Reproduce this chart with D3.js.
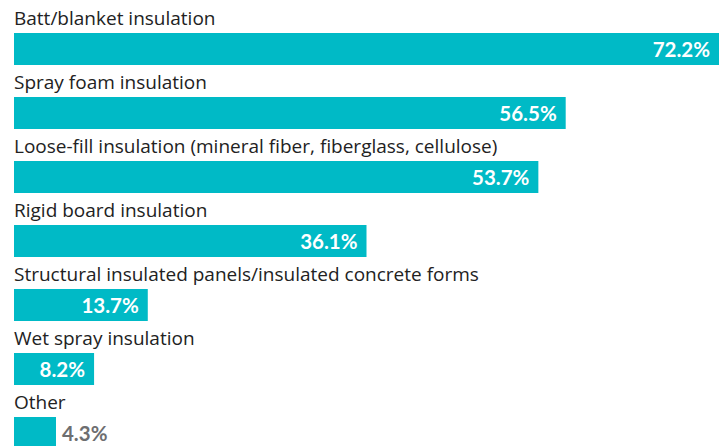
<!DOCTYPE html>
<html>
<head>
<meta charset="utf-8">
<script src="https://cdn.jsdelivr.net/npm/d3@7"></script>
<style>
  html, body { margin: 0; padding: 0; background: #fff; }
  svg { display: block; }
</style>
</head>
<body>
<svg id="chart" width="725" height="446"></svg>
<script>
// Insulation types and share of respondents (%)
const categories = [
  "Batt/blanket insulation",
  "Spray foam insulation",
  "Loose-fill insulation (mineral fiber, fiberglass, cellulose)",
  "Rigid board insulation",
  "Structural insulated panels/insulated concrete forms",
  "Wet spray insulation",
  "Other"
];
const values = [72.2, 56.5, 53.7, 36.1, 13.7, 8.2, 4.3];

const W = 725, H = 446;
const left = 14;
const rowStep = 64, barTop0 = 33, barH = 32;
const barColor = "#00BAC6";
const labelFont = "'Open Sans', Lato, sans-serif";
const valueFont = "Lato, 'Open Sans', sans-serif";

const svg = d3.select("#chart");

const x = d3.scaleLinear().domain([0, 72.2]).range([0, 705]);
const y = d3.scaleBand()
  .domain(d3.range(categories.length))
  .range([barTop0, barTop0 + rowStep * categories.length])
  .paddingInner(0).paddingOuter(0);

const rows = svg.selectAll("g.row")
  .data(categories.map((c, i) => ({ c, v: values[i], i })))
  .join("g")
  .attr("class", "row")
  .attr("transform", d => `translate(0,${y(d.i)})`);

rows.append("rect")
  .attr("x", left)
  .attr("y", 0)
  .attr("width", d => x(d.v))
  .attr("height", barH)
  .attr("fill", barColor);

rows.append("text")
  .attr("x", left)
  .attr("y", -8)
  .attr("font-family", labelFont)
  .attr("font-size", 19)
  .attr("fill", "#222")
  .text(d => d.c);

rows.append("text")
  .attr("class", "val")
  .attr("y", barH / 2 + 7.5)
  .attr("font-family", valueFont)
  .attr("font-size", 20.5)
  .attr("font-weight", "bold")
  .text(d => d.v.toFixed(1) + "%")
  .each(function (d) {
    const t = d3.select(this);
    const tw = this.getComputedTextLength();
    const bw = x(d.v);
    if (bw > tw + 16) {
      t.attr("x", left + bw - 9).attr("text-anchor", "end").attr("fill", "#fff");
    } else {
      t.attr("x", left + bw + 6).attr("text-anchor", "start").attr("fill", "#6d6e70");
    }
  });
</script>
</body>
</html>
